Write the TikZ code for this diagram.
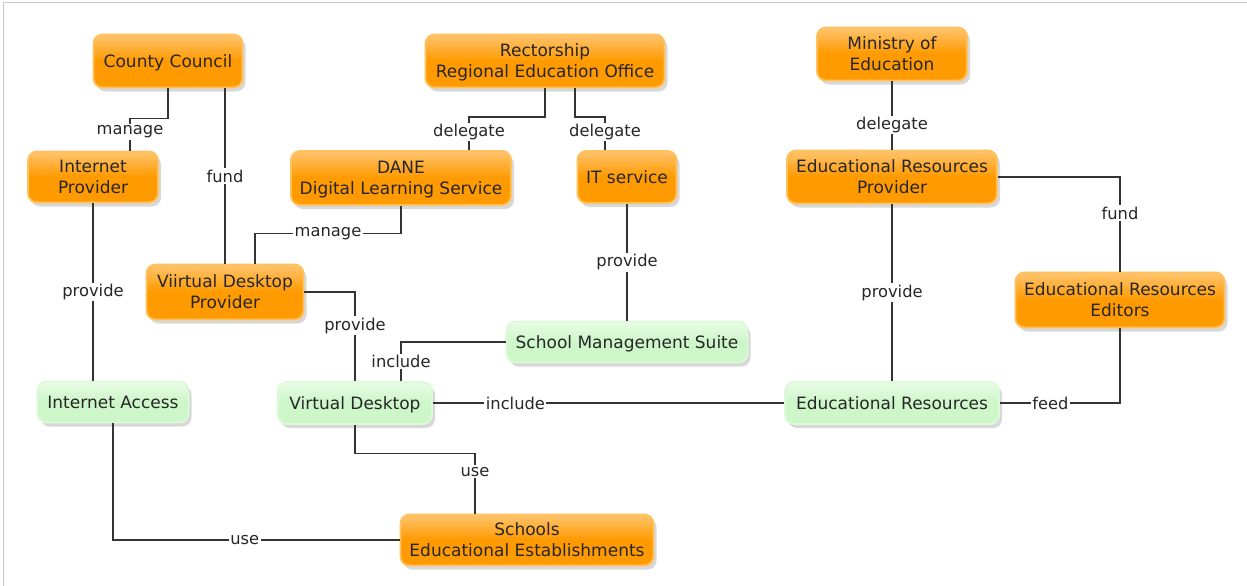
\documentclass[tikz,border=0pt]{standalone}
\usepackage{fontspec}
\setmainfont{DejaVu Sans}
\usetikzlibrary{shadows}
\definecolor{otop}{HTML}{FFC46E}
\definecolor{obot}{HTML}{FF9A00}
\definecolor{obord}{HTML}{FFC15C}
\definecolor{gtop}{HTML}{E8FCE5}
\definecolor{gbot}{HTML}{CDF6C9}
\definecolor{gbord}{HTML}{DCF9D8}
\definecolor{txt}{HTML}{262626}
\definecolor{linec}{HTML}{333333}
\newcommand{\nodefont}{\fontsize{17}{21}\selectfont}
\newcommand{\lblfont}{\fontsize{16.3}{19}\selectfont}
\tikzset{
  basebox/.style={rectangle, rounded corners=9pt, line width=1.8pt, align=center,
    text=txt, font=\nodefont, inner sep=0pt, text depth=0pt,
    drop shadow={shadow xshift=3pt, shadow yshift=-4pt, opacity=0.22, fill=black!70}},
  orangebox/.style={basebox, draw=obord, top color=otop, bottom color=obot, middle color=obot},
  greenbox/.style={basebox, draw=gbord, top color=gtop, bottom color=gbot, middle color=gbot},
  lbl/.style={fill=white, inner sep=1.5pt, text=txt, font=\lblfont},
  conn/.style={draw=linec, line width=1.3pt}
}
\begin{document}
\begin{tikzpicture}[x=1pt,y=-1pt]
\useasboundingbox (0,0) rectangle (1247,586);
\draw[black!22, line width=1.3pt] (3.5,586) -- (3.5,2.5) -- (1247,2.5);

% orange nodes
\node[orangebox, minimum width=149pt, minimum height=53pt] (cc) at (168,61) {County Council};
\node[orangebox, minimum width=239pt, minimum height=53pt] (reo) at (545,61) {Rectorship\\Regional Education Office};
\node[orangebox, minimum width=150pt, minimum height=53pt] (moe) at (892,54) {Ministry of\\Education};
\node[orangebox, minimum width=130pt, minimum height=51pt] (ip) at (93,177) {Internet\\Provider};
\node[orangebox, minimum width=220pt, minimum height=54pt] (dane) at (401,178) {DANE\\Digital Learning Service};
\node[orangebox, minimum width=99pt, minimum height=52pt] (it) at (627,177) {IT service};
\node[orangebox, minimum width=210pt, minimum height=53pt] (erp) at (892,177) {Educational Resources\\Provider};
\node[orangebox, minimum width=157pt, minimum height=55pt] (vdp) at (225,292) {Viirtual Desktop\\Provider};
\node[orangebox, minimum width=209pt, minimum height=55pt] (ede) at (1120,300) {Educational Resources\\Editors};
\node[orangebox, minimum width=253pt, minimum height=51pt] (sch) at (527,540) {Schools\\Educational Establishments};

% green nodes
\node[greenbox, minimum width=241pt, minimum height=41pt] (sms) at (627,342) {School Management Suite};
\node[greenbox, minimum width=151pt, minimum height=41pt] (ia) at (113,402) {Internet Access};
\node[greenbox, minimum width=154pt, minimum height=42pt] (vd) at (355,403) {Virtual Desktop};
\node[greenbox, minimum width=214pt, minimum height=42pt] (er) at (892,403) {Educational Resources};

% connectors
\draw[conn] (cc.south) |- ([xshift=37pt,yshift=32pt]ip.north) -- node[lbl,pos=0.42]{manage} ([xshift=37pt]ip.north);
\draw[conn] ([xshift=57pt]cc.south) -- node[lbl]{fund} (vdp.north);
\draw[conn] (reo.south) |- ([xshift=68pt,yshift=33pt]dane.north) -- node[lbl,pos=0.45]{delegate} ([xshift=68pt]dane.north);
\draw[conn] ([xshift=30pt]reo.south) |- ([xshift=-22pt,yshift=33pt]it.north) -- node[lbl,pos=0.45]{delegate} ([xshift=-22pt]it.north);
\draw[conn] (moe.south) -- node[lbl,pos=0.64]{delegate} (erp.north);
\draw[conn] (dane.south) |- node[lbl,pos=0.75]{manage} ([xshift=30pt,yshift=30pt]vdp.north) -- ([xshift=30pt]vdp.north);
\draw[conn] (ip.south) -- node[lbl]{provide} ([xshift=-20pt]ia.north);
\draw[conn] (vdp.east) -| node[lbl,pos=0.69]{provide} (vd.north);
\draw[conn] (it.south) -- node[lbl]{provide} (sms.north);
\draw[conn] (sms.west) -| node[lbl,pos=0.75]{include} ([xshift=46pt]vd.north);
\draw[conn] (vd.east) -- node[lbl,pos=0.235]{include} (er.west);
\draw[conn] (erp.south) -- node[lbl]{provide} (er.north);
\draw[conn] (erp.east) -| node[lbl,pos=0.69]{fund} (ede.north);
\draw[conn] (ede.south) |- node[lbl,pos=0.79]{feed} (er.east);
\draw[conn] (vd.south) |- ([xshift=-52pt,yshift=60pt]sch.north) -- node[lbl,pos=0.3]{use} ([xshift=-52pt]sch.north);
\draw[conn] (ia.south) |- node[lbl,pos=0.73]{use} (sch.west);
\end{tikzpicture}
\end{document}
